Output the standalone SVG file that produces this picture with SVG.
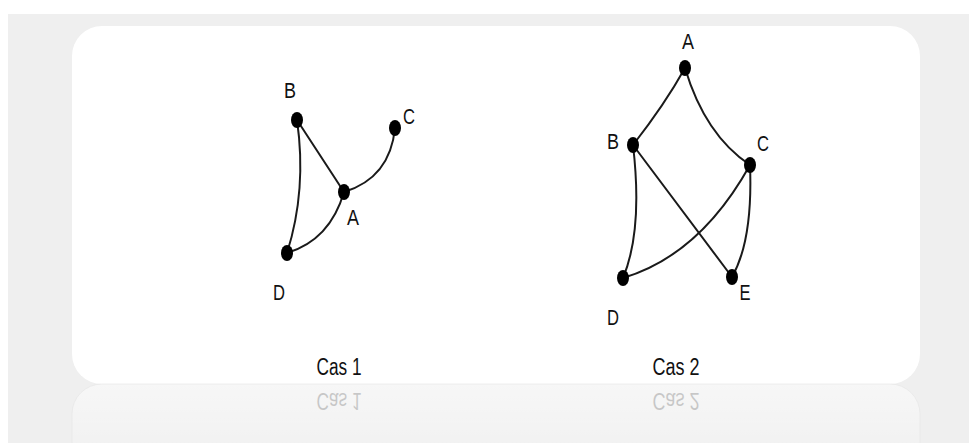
<svg xmlns="http://www.w3.org/2000/svg" width="969" height="443" viewBox="0 0 969 443">
<defs>
<style>
.bg{fill:#efefef}
.card{fill:#ffffff}
.edge{fill:none;stroke:#1a1a1a;stroke-width:2;stroke-linecap:round}
.node{fill:#000}
.lbl{font-family:"Liberation Sans",Arial,sans-serif;font-size:22px;fill:#111;text-anchor:middle}
.cap{font-family:"Liberation Sans",Arial,sans-serif;font-size:23px;fill:#111;text-anchor:middle}
.refl{opacity:0.2}
</style>
<linearGradient id="fade" x1="0" y1="0" x2="0" y2="1">
<stop offset="0" stop-color="#ffffff" stop-opacity="0.5"/>
<stop offset="1" stop-color="#ffffff" stop-opacity="0"/>
</linearGradient>
</defs>
<rect x="0" y="0" width="969" height="443" fill="#ffffff"/>
<rect class="bg" x="8" y="14" width="961" height="429"/>
<rect class="card" x="72" y="26" width="848" height="358" rx="30" ry="30"/>
<rect x="72" y="384" width="848" height="90" rx="30" ry="30" fill="url(#fade)" stroke="#e4e4e4" stroke-width="1" stroke-opacity="0.6"/>

<g id="connectors">
<path class="edge" d="M297,120 L344,192"/>
<path class="edge" d="M297,120 Q307,190 287,253"/>
<path class="edge" d="M344,192 Q390,178 395,128"/>
<path class="edge" d="M287,253 Q330,240 344,192"/>
<path class="edge" d="M685,68 Q665,104 633,145"/>
<path class="edge" d="M685,68 Q705,135 750,165"/>
<path class="edge" d="M633,145 Q643,230 623,278"/>
<path class="edge" d="M633,145 L732,277"/>
<path class="edge" d="M750,165 Q700,255 623,278"/>
<path class="edge" d="M750,165 Q753,240 732,277"/>
</g>

<g id="case1">
<g id="c1-B"><ellipse class="node" cx="297" cy="120" rx="6" ry="8"/><text class="lbl" x="290" y="98" textLength="12" lengthAdjust="spacingAndGlyphs">B</text></g>
<g id="c1-C"><ellipse class="node" cx="395" cy="128" rx="6" ry="8"/><text class="lbl" x="409" y="124" textLength="12" lengthAdjust="spacingAndGlyphs">C</text></g>
<g id="c1-A"><ellipse class="node" cx="344" cy="192" rx="6" ry="8"/><text class="lbl" x="353" y="225" textLength="12" lengthAdjust="spacingAndGlyphs">A</text></g>
<g id="c1-D"><ellipse class="node" cx="287" cy="253" rx="6" ry="8"/><text class="lbl" x="279" y="300" textLength="12" lengthAdjust="spacingAndGlyphs">D</text></g>
<g id="c1-caption"><text class="cap" x="339" y="375" textLength="45" lengthAdjust="spacingAndGlyphs">Cas 1</text></g>
</g>

<g id="case2">
<g id="c2-A"><ellipse class="node" cx="685" cy="68" rx="6" ry="8"/><text class="lbl" x="688" y="49" textLength="12" lengthAdjust="spacingAndGlyphs">A</text></g>
<g id="c2-B"><ellipse class="node" cx="633" cy="145" rx="6" ry="8"/><text class="lbl" x="613" y="149" textLength="12" lengthAdjust="spacingAndGlyphs">B</text></g>
<g id="c2-C"><ellipse class="node" cx="750" cy="165" rx="6" ry="8"/><text class="lbl" x="763" y="151" textLength="12" lengthAdjust="spacingAndGlyphs">C</text></g>
<g id="c2-D"><ellipse class="node" cx="623" cy="278" rx="6" ry="8"/><text class="lbl" x="613" y="325" textLength="12" lengthAdjust="spacingAndGlyphs">D</text></g>
<g id="c2-E"><ellipse class="node" cx="732" cy="277" rx="6" ry="8"/><text class="lbl" x="745" y="300" textLength="11" lengthAdjust="spacingAndGlyphs">E</text></g>
<g id="c2-caption"><text class="cap" x="676" y="375" textLength="47" lengthAdjust="spacingAndGlyphs">Cas 2</text></g>
</g>

<g id="reflection" class="refl" transform="translate(0,768) scale(1,-1)">
<text class="cap" x="339" y="375" textLength="45" lengthAdjust="spacingAndGlyphs">Cas 1</text>
<text class="cap" x="676" y="375" textLength="47" lengthAdjust="spacingAndGlyphs">Cas 2</text>
</g>
</svg>
